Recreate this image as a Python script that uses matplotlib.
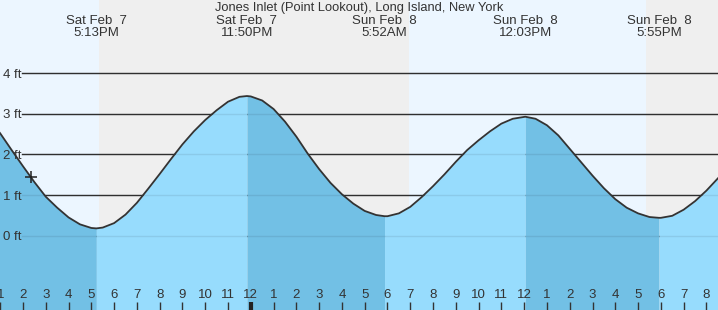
import matplotlib
matplotlib.use("Agg")
import numpy as np
import matplotlib.pyplot as plt
from matplotlib.ticker import FixedLocator, FuncFormatter
from matplotlib.transforms import blended_transform_factory

plt.rcParams['font.family'] = ['Liberation Sans', 'DejaVu Sans']

# tide height (ft), hours counted from Sat 00:00
hours = [12.5, 13.0, 13.5, 14.0, 14.5, 15.0, 15.5, 16.0, 16.5, 17.0, 17.22,
         17.5, 18.0, 18.5, 19.0, 19.5, 20.0, 20.5, 21.0, 21.5, 22.0, 22.5, 23.0, 23.5, 23.83,
         24.0, 24.5, 25.0, 25.5, 26.0, 26.5, 27.0, 27.5, 28.0, 28.5, 29.0, 29.5, 29.87,
         30.0, 30.5, 31.0, 31.5, 32.0, 32.5, 33.0, 33.5, 34.0, 34.5, 35.0, 35.5, 36.05,
         36.5, 37.0, 37.5, 38.0, 38.5, 39.0, 39.5, 40.0, 40.5, 41.0, 41.5, 41.92,
         42.0, 42.5, 43.0, 43.5, 44.0, 44.5, 45.0]
height_ft = [2.88, 2.52, 2.11, 1.71, 1.32, 0.96, 0.69, 0.45, 0.28, 0.19, 0.18,
             0.20, 0.31, 0.52, 0.81, 1.16, 1.52, 1.89, 2.25, 2.57, 2.85, 3.09, 3.30, 3.42, 3.44,
             3.43, 3.33, 3.12, 2.81, 2.44, 2.02, 1.64, 1.30, 1.02, 0.79, 0.61, 0.51, 0.48,
             0.48, 0.55, 0.71, 0.95, 1.22, 1.51, 1.82, 2.11, 2.35, 2.57, 2.76, 2.88, 2.93,
             2.88, 2.72, 2.47, 2.14, 1.81, 1.48, 1.17, 0.90, 0.69, 0.55, 0.46, 0.44,
             0.44, 0.49, 0.64, 0.85, 1.11, 1.41, 1.70]

extreme_hours = [17.22, 23.83, 29.87, 36.05, 41.92]
extreme_days = ['Sat Feb  7', 'Sat Feb  7', 'Sun Feb  8', 'Sun Feb  8', 'Sun Feb  8']
extreme_times = ['5:13PM', '11:50PM', '5:52AM', '12:03PM', '5:55PM']

sun_changes = [17.34, 30.93, 41.36]   # sunset, sunrise, sunset
grid_ft = [0, 1, 2, 3, 4]
hour_ticks = list(range(13, 45))
midnight = 24
now_hour, now_ft = 14.33, 1.44

title = 'Jones Inlet (Point Lookout), Long Island, New York'

day_bg = '#ecf6ff'
night_bg = '#efefef'
rising_fill = '#97dcfd'
falling_fill = '#72c0e5'
ink = '#333333'

x0 = 12.99
x1 = x0 + 718 / 22.78
y0, y1 = -1.83, 5.805

fig = plt.figure(figsize=(7.18, 3.10), dpi=100)
ax = fig.add_axes([0, 0, 1, 1])
ax.set_xlim(x0, x1)
ax.set_ylim(y0, y1)

# day / night background
edges = [x0] + sun_changes + [x1]
for i in range(len(edges) - 1):
    ax.axvspan(edges[i], edges[i + 1], color=day_bg if i % 2 == 0 else night_bg, lw=0, zorder=0)

trans = blended_transform_factory(ax.transAxes, ax.transData)
for g in grid_ft:
    ax.axhline(g, xmin=22 / 718, color=ink, lw=1, zorder=1)
    ax.axhline(g, xmin=22 / 718, color='black', alpha=0.08, lw=1, zorder=3)
    ax.text(3 / 718, g, '%d ft' % g, transform=trans, ha='left', va='center_baseline',
            fontsize=9.5, color=ink, zorder=5)

# fill under the curve, darker while the tide is falling
h = np.array(hours)
v = np.array(height_ft)
bounds = [h[0]] + extreme_hours + [h[-1]]
for i in range(len(bounds) - 1):
    m = (h >= bounds[i]) & (h <= bounds[i + 1])
    falling = v[m][0] > v[m][-1]
    ax.fill_between(h[m], v[m], y0, color=falling_fill if falling else rising_fill,
                    lw=0, zorder=2)

ax.plot(h, v, color=ink, lw=1.3, zorder=4, solid_joinstyle='round')
ax.plot(now_hour, now_ft, marker='+', ms=9, mew=1.1, color='#222222', zorder=5)

# header
fig.text(0.5, 1 - 8 / 310, title, ha='center', va='center', fontsize=9.3, color=ink)
top = blended_transform_factory(ax.transData, ax.transAxes)
for hr, d, t in zip(extreme_hours, extreme_days, extreme_times):
    ax.text(hr, 1 - 21.5 / 310, d, transform=top, ha='center', va='center', fontsize=9.5, color=ink)
    ax.text(hr, 1 - 33.5 / 310, t, transform=top, ha='center', va='center', fontsize=9.5, color=ink)

# hour ticks
ax.set_axisbelow(False)
ax.xaxis.set_major_locator(FixedLocator(hour_ticks))
ax.xaxis.set_major_formatter(FuncFormatter(lambda x, p: str((int(round(x)) - 1) % 12 + 1)))
ax.xaxis.set_minor_locator(FixedLocator([midnight]))
ax.xaxis.remove_overlapping_locs = False
ax.tick_params(axis='x', which='major', direction='in', length=6, width=1, color=ink,
               pad=-15, labelsize=9.5, labelcolor=ink)
ax.tick_params(axis='x', which='minor', direction='in', length=6, width=3, color='#222222')
ax.set_yticks([])
for s in ax.spines.values():
    s.set_visible(False)

fig.savefig('out.png', dpi=100)
